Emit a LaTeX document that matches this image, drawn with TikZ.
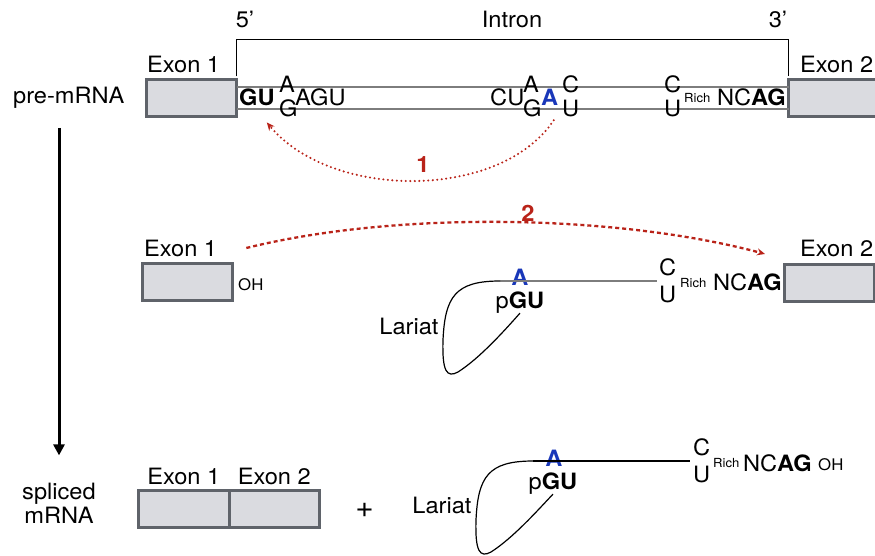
\documentclass[tikz,border=0pt]{standalone}
\usepackage{fontspec}
\setmainfont{TeX Gyre Heros}[FakeStretch=1.05]
\usepackage{tikz}
\usetikzlibrary{arrows.meta, positioning, calc}
\definecolor{exonfill}{RGB}{218,219,224}
\definecolor{exonline}{RGB}{95,99,106}
\definecolor{splicered}{RGB}{185,35,25}
\definecolor{branchblue}{RGB}{25,55,185}
\definecolor{strandgray}{RGB}{125,125,125}
\newcommand{\txtsize}{\fontsize{22.5}{26}\selectfont}
\newcommand{\richsize}{\fontsize{12.5}{14}\selectfont}
\newcommand{\ohsize}{\fontsize{16}{18}\selectfont}

\begin{document}
\begin{tikzpicture}[
	x=1pt, y=-1pt,
	every node/.style={font=\txtsize, inner sep=0pt},
	exon/.style={rectangle, draw=exonline, line width=3pt, fill=exonfill, minimum width=90pt, minimum height=37pt, outer sep=0pt},
	seq/.style={anchor=base west},
	rich/.style={anchor=base west, font=\richsize},
	oh/.style={anchor=base west, font=\ohsize},
	branch/.style={anchor=base, font=\txtsize\bfseries, text=branchblue},
	strand/.style={draw=strandgray, line width=1.2pt},
	rna/.style={draw=black, line width=1.2pt},
	steplbl/.style={font=\txtsize\bfseries, text=splicered},
	react/.style={draw=splicered, line width=2.3pt, -{Stealth[length=8pt, width=7pt]}},
	flow/.style={draw=black, line width=3pt, -{Triangle[length=11pt, width=11pt]}}
]
\useasboundingbox (0,0) rectangle (875,556);

% pre-mRNA row
\node[anchor=base west] (preLbl) at (13,104) {pre-mRNA};
\node[exon] (exA1) at (191.5,98) {};
\node[exon] (exA2) at (833.5,98) {};
\node[anchor=base west] (labA1) at (147,73) {Exon 1};
\node[anchor=base west] (labA2) at (800,73) {Exon 2};
\draw[strand] (exA1.east |- 0,87) -- (exA2.west |- 0,87);
\draw[strand] (exA1.east |- 0,109) -- (exA2.west |- 0,109);

% intron bracket
\draw[line width=1.6pt] ([yshift=3pt]exA1.north east) -- ++(0,-37) -| ([yshift=3pt]exA2.north west);
\node[anchor=base] (fiveEnd) at (245,28) {5'};
\node[anchor=base] (intronLbl) at (512,28) {Intron};
\node[anchor=base] (threeEnd) at (778,28) {3'};

% intron sequence
\node[seq, font=\txtsize\bfseries] (gu5) at (239,106) {GU};
\node[seq] (a5up) at (279,93) {A};
\node[seq] (g5dn) at (279,117) {G};
\node[seq] (agu) at (295,106) {AGU};
\node[seq] (cu) at (490,106) {CU};
\node[seq] (bpUp) at (523,93) {A};
\node[seq] (bpDn) at (523,117) {G};
\node[seq, font=\txtsize\bfseries, text=branchblue] (bpA) at (541,106) {A};
\node[seq] (cUp) at (562,93) {C};
\node[seq] (uDn) at (562,117) {U};
\node[seq] (pyC) at (664,93) {C};
\node[seq] (pyU) at (664,117) {U};
\node[rich] (richA) at (684,103) {Rich};
\node[seq] (ncagA) at (717,106) {NC\textbf{AG}};

% step 1
\draw[react, line cap=round, dash pattern=on 0pt off 4.5pt] ($(bpA.south)+(4,14)$) .. controls +(-53,80) and +(65,78) .. ($(gu5.south east)+(-8,16)$);
\node[steplbl] (stepOne) at (423,165) {1};

% lariat intermediate row
\node[exon] (exB1) at (187.5,282) {};
\node[anchor=base west] (labB1) at (144,256) {Exon 1};
\node[oh] (ohB) at (238,290) {OH};
\node[exon] (exB2) at (829.5,283) {};
\node[anchor=base west] (labB2) at (800,256) {Exon 2};
\node[seq] (ncagB) at (713,290) {NC\textbf{AG}};
\node[rich] (richB) at (680,287) {Rich};
\node[seq] (pyCB) at (659,275) {C};
\node[seq] (pyUB) at (659,302) {U};
\node[branch] (bpAB) at (520,285) {A};
\node[anchor=base] (pguB) at (520,308) {p\textbf{GU}};
\node[anchor=base] (larB) at (409,334) {Lariat};
\coordinate (loopB) at (500,281);
\draw[strand] (loopB) -- ([xshift=-2pt]pyCB.west |- loopB);
\draw[rna] (loopB) .. controls (455,281) and (445,297) .. (443,340) .. controls (442,372) and (447,378) .. (458,372) .. controls (480,358) and (505,330) .. (pguB.south);

% step 2
\coordinate (r2s) at ($(labB1.east)+(29,0)$);
\coordinate (r2e) at ($(labB2.west)+(-35,6)$);
\draw[react, dash pattern=on 4pt off 3pt] (r2s) .. controls (400,210) and (620,215) .. (r2e);
\node[steplbl] (stepTwo) at (528,213) {2};

% spliced products row
\node[anchor=base] (splLbl) at (59,499) {spliced};
\node[anchor=base] (mrnaLbl) at (59,523) {mRNA};
\coordinate (flowTop) at (59,128);
\draw[flow] (flowTop) -- ([yshift=27pt]splLbl.north);

\node[exon, minimum width=90.5pt] (exC1) at (183.75,509) {};
\node[exon, minimum width=90.5pt, right=0pt of exC1] (exC2) {};
\node[above=5.5pt of exC1] (labC1) {Exon 1};
\node[above=5.5pt of exC2] (labC2) {Exon 2};
\node[font=\fontsize{30}{32}\selectfont] (plus) at (364.5,510) {+};

\node[anchor=base] (larC) at (442,513) {Lariat};
\node[branch] (bpAC) at (554,466) {A};
\node[anchor=base] (pguC) at (553,489) {p\textbf{GU}};
\node[seq] (pyCC) at (693,455) {C};
\node[seq] (pyUC) at (693,482) {U};
\node[rich] (richC) at (713,467) {Rich};
\node[seq] (ncagC) at (743,471) {NC\textbf{AG}};
\node[oh] (ohC) at (818,470) {OH};
\coordinate (loopC) at (533,461);
\draw[rna] (loopC) -- ([xshift=-3pt]pyCC.west |- loopC);
\draw[rna] (loopC) .. controls (488,461) and (478,477) .. (476,520) .. controls (475,552) and (480,558) .. (491,552) .. controls (513,538) and (538,510) .. (pguC.south);

\end{tikzpicture}
\end{document}
